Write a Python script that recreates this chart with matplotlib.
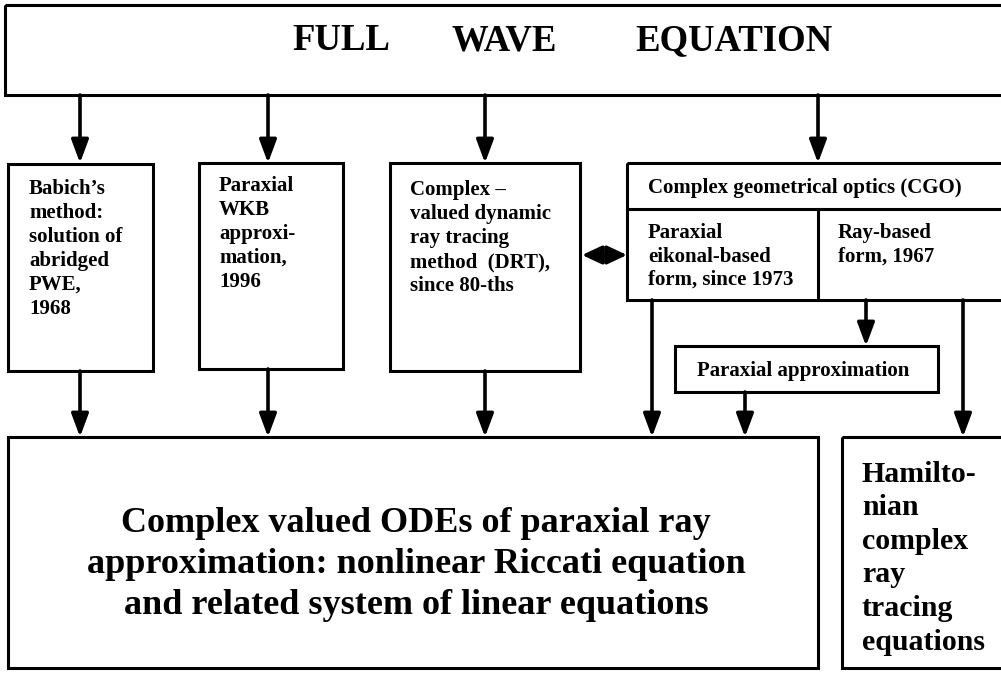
import matplotlib.pyplot as plt
from matplotlib.patches import Rectangle

# texts of the diagram
title_words = ['FULL', 'WAVE', 'EQUATION']
side_boxes = [
    "Babich\u2019s\nmethod:\nsolution of\nabridged\nPWE,\n1968",
    "Paraxial\nWKB\napproxi-\nmation,\n1996",
    "Complex \u2013\nvalued dynamic\nray tracing\nmethod  (DRT),\nsince 80-ths",
]
cgo_header = 'Complex geometrical optics (CGO)'
cgo_left = 'Paraxial\neikonal-based\nform, since 1973'
cgo_right = 'Ray-based\nform, 1967'
parax_label = 'Paraxial approximation'
bottom_label = ('Complex valued ODEs of paraxial ray\n'
                'approximation: nonlinear Riccati equation\n'
                'and related system of linear equations')
ham_label = 'Hamilto-\nnian\ncomplex\nray\ntracing\nequations'

W, H = 1001, 673
fig = plt.figure(figsize=(W / 100, H / 100), dpi=100)
ax = fig.add_axes([0, 0, 1, 1])
ax.set_xlim(0, W)
ax.set_ylim(H, 0)
ax.axis('off')

font = dict(family='Liberation Serif', weight='bold', color='black')
LW = 2.2


def box(x0, y0, x1, y1):
    ax.add_patch(Rectangle((x0, y0), x1 - x0, y1 - y0, fill=False,
                           lw=LW, ec='black', clip_on=False))


def arrow(x, y0, y1):
    ax.annotate('', xy=(x, y1), xytext=(x, y0),
                arrowprops=dict(arrowstyle='-|>,head_length=0.7,head_width=0.26',
                                lw=2.6, color='black', mutation_scale=20,
                                shrinkA=0, shrinkB=0))


def lines(x, y_first, step, label, size, ha='left'):
    for i, line in enumerate(label.split('\n')):
        ax.text(x, y_first + i * step, line, fontsize=size, ha=ha,
                va='center', **font)


# top box
box(5, 5, 1004, 95)
for word, xw in zip(title_words, [292, 452, 635]):
    ax.text(xw, 41, word, fontsize=26.5, ha='left', va='center', **font)

# arrows from the top box
for xa in [80, 268, 485, 818]:
    arrow(xa, 95, 163)

# three side boxes
side_geom = [(8, 164, 153, 371), (199, 163, 343, 369), (390, 163, 580, 371)]
side_text = [(29, 189), (219, 186), (410, 190)]
side_arrow_x = [80, 268, 485]
for label, (x0, y0, x1, y1), (tx, ty), xa in zip(side_boxes, side_geom,
                                                  side_text, side_arrow_x):
    box(x0, y0, x1, y1)
    lines(tx, ty, 24, label, 15)
    arrow(xa, y1, 437)

# double arrow DRT <-> CGO
ax.annotate('', xy=(627, 255), xytext=(582, 255),
            arrowprops=dict(arrowstyle='<|-|>,head_length=0.6,head_width=0.28',
                            lw=2.6, color='black', mutation_scale=20,
                            shrinkA=0, shrinkB=0))

# CGO box
box(627, 163, 1004, 300)
ax.plot([627, 1004], [209, 209], color='black', lw=LW, clip_on=False)
ax.plot([818, 818], [209, 300], color='black', lw=LW)
lines(648, 188, 0, cgo_header, 15)
lines(648, 233, 23.5, cgo_left, 15)
lines(838, 233, 23.5, cgo_right, 15)

# paraxial approximation box
box(675, 346, 938, 392)
lines(697, 371, 0, parax_label, 15)

arrow(652, 300, 437)
arrow(866, 300, 346)
arrow(963, 300, 437)
arrow(745, 392, 437)

# bottom boxes
box(8, 437, 818, 668)
lines(416, 524, 40.5, bottom_label, 26, ha='center')
box(842, 437, 1004, 668)
lines(862, 474, 33.6, ham_label, 21.5)

fig.savefig('out.png', dpi=100)
